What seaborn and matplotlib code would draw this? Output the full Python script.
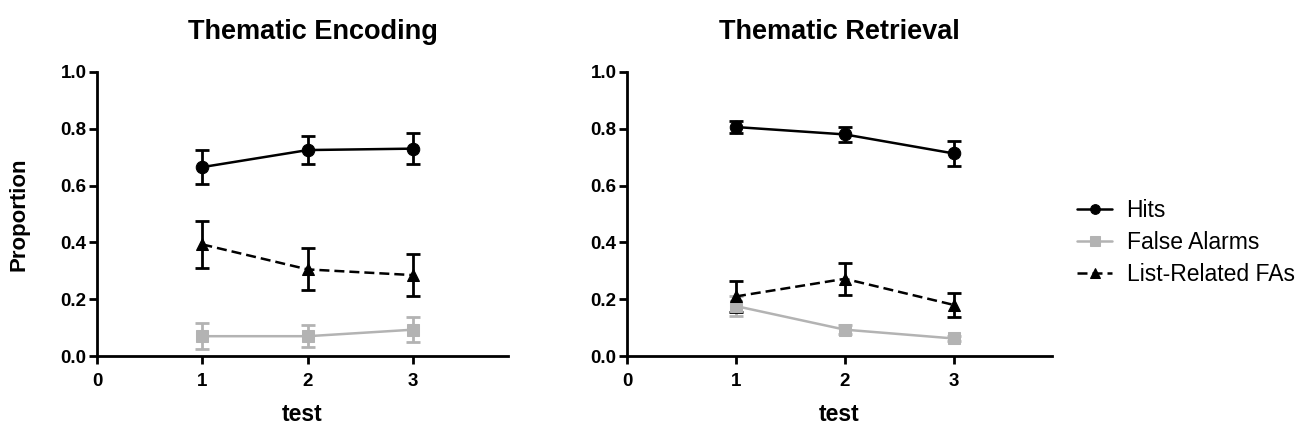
import numpy as np
import pandas as pd
import matplotlib
matplotlib.use("Agg")
import matplotlib.pyplot as plt
import seaborn as sns

# %%
### values
tests = [1, 2, 3]
series = ["Hits", "False Alarms", "List-Related FAs"]

enc_means = {"Hits": [0.665, 0.725, 0.730],
             "False Alarms": [0.070, 0.070, 0.093],
             "List-Related FAs": [0.393, 0.305, 0.285]}
enc_err = {"Hits": [0.060, 0.050, 0.055],
           "False Alarms": [0.045, 0.038, 0.045],
           "List-Related FAs": [0.082, 0.074, 0.074]}

ret_means = {"Hits": [0.806, 0.780, 0.713],
             "False Alarms": [0.176, 0.093, 0.062],
             "List-Related FAs": [0.210, 0.272, 0.180]}
ret_err = {"Hits": [0.022, 0.025, 0.043],
           "False Alarms": [0.035, 0.015, 0.008],
           "List-Related FAs": [0.054, 0.057, 0.043]}

titles = ["Thematic Encoding", "Thematic Retrieval"]

# %%
sns.set_style("ticks", {"text.color": "black", "axes.labelcolor": "black",
                        "xtick.color": "black", "ytick.color": "black",
                        "axes.edgecolor": "black"})
plt.rcParams['font.family'] = ['Liberation Sans', 'DejaVu Sans']

colors = {"Hits": "black", "False Alarms": "#b3b3b3", "List-Related FAs": "black"}
markers = {"Hits": "o", "False Alarms": "s", "List-Related FAs": "^"}
dashes = {"Hits": "", "False Alarms": "", "List-Related FAs": (4, 2)}


def make_df(means):
    rows = []
    for s in series:
        for t, v in zip(tests, means[s]):
            rows.append({"test": t, "value": v, "series": s})
    return pd.DataFrame(rows)


fig = plt.figure(figsize=(13.05, 4.28), dpi=100)
ax1 = fig.add_axes([0.0743, 0.168, 0.315, 0.664])
ax2 = fig.add_axes([0.4805, 0.168, 0.3255, 0.664])

for ax, means, errs, title, tx in [(ax1, enc_means, enc_err, titles[0], 0.525),
                                   (ax2, ret_means, ret_err, titles[1], 0.5)]:
    df = make_df(means)
    # error bars first so the lines sit on top
    for s in series:
        ax.errorbar(tests, means[s], yerr=errs[s], fmt="none",
                    ecolor=colors[s], elinewidth=2, capsize=5, capthick=2, zorder=2)
    sns.lineplot(data=df, x="test", y="value", hue="series", style="series",
                 palette=colors, markers=markers, dashes=dashes, hue_order=series,
                 style_order=series, markersize=9, linewidth=1.8,
                 markeredgecolor=None, ax=ax, legend=(ax is ax2), zorder=3)
    ax.set_xlim(0, 3.9)
    ax.set_ylim(0, 1.0)
    ax.set_xticks([0, 1, 2, 3])
    ax.set_yticks(np.arange(0, 1.01, 0.2))
    ax.set_yticklabels(["%.1f" % v for v in np.arange(0, 1.01, 0.2)])
    for lab in ax.get_xticklabels() + ax.get_yticklabels():
        lab.set_fontweight("bold")
        lab.set_fontsize(13.5)
    ax.tick_params(width=2, length=6)
    ax.tick_params(axis="x", pad=6)
    ax.tick_params(axis="y", pad=1.5)
    for s in ["left", "bottom"]:
        ax.spines[s].set_linewidth(2)
    sns.despine(ax=ax)
    ax.set_title(title, fontsize=19.5, fontweight="bold", pad=24, x=tx)
    ax.set_xlabel("test", fontsize=16.5, fontweight="bold", labelpad=9.5)
    ax.set_ylabel("")

ax1.set_ylabel("Proportion", fontsize=16, fontweight="bold", labelpad=22)

leg = ax2.legend(loc="center left", bbox_to_anchor=(1.06, 0.40), frameon=False,
                 fontsize=16.5, handlelength=1.5, handletextpad=0.65,
                 labelspacing=0.38, borderpad=0, borderaxespad=0)
for h in leg.legend_handles:
    h.set_markersize(7)

plt.savefig("out.png", dpi=100)
